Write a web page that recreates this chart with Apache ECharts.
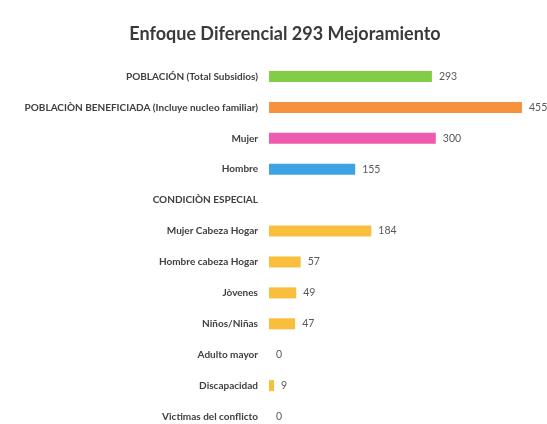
<!DOCTYPE html>
<html>
<head>
<meta charset="utf-8">
<script src="https://cdn.jsdelivr.net/npm/echarts@6/dist/echarts.min.js"></script>
<style>html,body{margin:0;padding:0;background:#fff}#c{width:547px;height:424px}</style>
</head>
<body>
<div id="c"></div>
<script>
const titleText = 'Enfoque Diferencial 293 Mejoramiento';
const categories = [
  'POBLACIÓN (Total Subsidios)',
  'POBLACIÒN BENEFICIADA (Incluye nucleo familiar)',
  'Mujer',
  'Hombre',
  'CONDICIÒN ESPECIAL',
  'Mujer Cabeza Hogar',
  'Hombre cabeza Hogar',
  'Jòvenes',
  'Niños/Niñas',
  'Adulto mayor',
  'Discapacidad',
  'Victimas del conflicto'
];
const values = [293, 455, 300, 155, null, 184, 57, 49, 47, 0, 9, 0];
const barColors = ['#82CD45', '#F7913D', '#EE5AAE', '#3FA2E3', '#F9BE3C', '#F9BE3C', '#F9BE3C', '#F9BE3C', '#F9BE3C', '#F9BE3C', '#F9BE3C', '#F9BE3C'];

const FONT = 'Lato';
const chart = echarts.init(document.getElementById('c'), null, {renderer: 'canvas'});
chart.setOption({
  backgroundColor: '#ffffff',
  animation: false,
  title: {
    text: titleText,
    left: 280, top: 20, textAlign: 'center',
    textStyle: {fontFamily: FONT, fontSize: 18, fontWeight: 'bold', color: '#3a3a3a'}
  },
  grid: {left: 269, top: 61, width: 278, height: 371, containLabel: false, outerBoundsMode: 'none'},
  xAxis: {
    type: 'value', min: 0, max: 500, show: false
  },
  yAxis: {
    type: 'category', inverse: true, data: categories,
    axisLine: {show: false}, axisTick: {show: false}, splitLine: {show: false},
    axisLabel: {margin: 11, fontFamily: FONT, fontSize: 10, fontWeight: 'bold', color: '#404040'}
  },
  series: [{
    type: 'bar',
    barWidth: 11,
    data: values.map((v, i) => ({value: v === null ? '-' : v, itemStyle: {color: barColors[i]}})),
    label: {
      show: true, position: 'right', distance: 7,
      fontFamily: FONT, fontSize: 10.5, color: '#595959'
    }
  }]
});
</script>
</body>
</html>
